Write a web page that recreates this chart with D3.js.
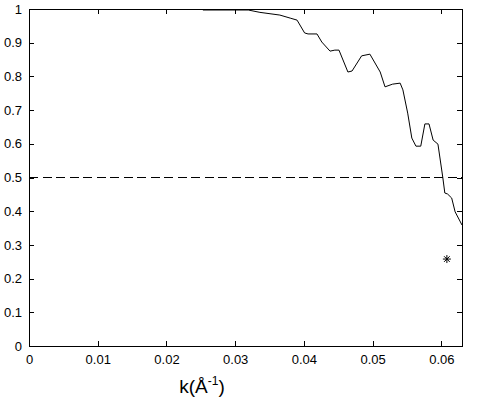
<!DOCTYPE html>
<html>
<head>
<meta charset="utf-8">
<script src="https://cdn.jsdelivr.net/npm/d3@7"></script>
<style>
  body { margin: 0; background: #fff; }
  svg { display: block; font-family: "Liberation Sans", Arial, sans-serif; }
</style>
</head>
<body>
<div class="chart"></div>
<script>
const width = 481;
const height = 406;
const margin = {top: 9, right: 19, bottom: 60, left: 29};

// curve
const kValues = [0.0253, 0.0319, 0.0336, 0.0365, 0.0380, 0.0390, 0.0401, 0.0406, 0.0419, 0.0426,
  0.0438, 0.0445, 0.0451, 0.0464, 0.0470, 0.0484, 0.0496, 0.0511, 0.0518, 0.0529,
  0.0540, 0.0544, 0.0551, 0.0557, 0.0563, 0.0570, 0.0576, 0.0582, 0.0588, 0.0595,
  0.0602, 0.0605, 0.0609, 0.0615, 0.0620, 0.0630];
const fscValues = [0.997, 0.997, 0.990, 0.982, 0.973, 0.967, 0.929, 0.926, 0.926, 0.902,
  0.875, 0.878, 0.878, 0.813, 0.816, 0.861, 0.866, 0.813, 0.769, 0.777,
  0.780, 0.760, 0.691, 0.617, 0.593, 0.593, 0.659, 0.659, 0.611, 0.599,
  0.501, 0.454, 0.451, 0.439, 0.398, 0.359];
const threshold = 0.5;
const starPoint = [0.0608, 0.258];

const xTicks = [0, 0.01, 0.02, 0.03, 0.04, 0.05, 0.06];
const yTicks = [0, 0.1, 0.2, 0.3, 0.4, 0.5, 0.6, 0.7, 0.8, 0.9, 1];
const xDomain = [0, 0.063];
const yDomain = [0, 1];

const x = d3.scaleLinear().domain(xDomain).range([margin.left, width - margin.right]);
const y = d3.scaleLinear().domain(yDomain).range([height - margin.bottom, margin.top]);

const svg = d3.select(".chart")
  .append("svg")
  .attr("width", width)
  .attr("height", height);

svg.append("rect").attr("width", width).attr("height", height).attr("fill", "#fff");

const tickLen = 5;
const axisStyle = g => g
  .call(g => g.select(".domain").remove())
  .call(g => g.selectAll("line").attr("stroke", "#000").attr("shape-rendering", "crispEdges"))
  .call(g => g.selectAll("text").attr("fill", "#000").attr("font-size", 13));

// bottom + top ticks pointing inward
svg.append("g")
  .attr("transform", `translate(0,${y(0)})`)
  .call(d3.axisBottom(x).tickValues(xTicks).tickSize(-tickLen).tickPadding(9).tickFormat(d3.format("")))
  .call(axisStyle);

svg.append("g")
  .attr("transform", `translate(0,${y(1)})`)
  .call(d3.axisTop(x).tickValues(xTicks.slice(1)).tickSize(-tickLen).tickFormat(""))
  .call(axisStyle);

svg.append("g")
  .attr("transform", `translate(${x(0)},0)`)
  .call(d3.axisLeft(y).tickValues(yTicks).tickSize(-tickLen).tickPadding(7).tickFormat(d3.format("")))
  .call(axisStyle);

svg.append("g")
  .attr("transform", `translate(${x(xDomain[1])},0)`)
  .call(d3.axisRight(y).tickValues(yTicks.slice(1, -1)).tickSize(-tickLen).tickFormat(""))
  .call(axisStyle);

// box
svg.append("rect")
  .attr("x", x(0))
  .attr("y", y(1))
  .attr("width", x(xDomain[1]) - x(0))
  .attr("height", y(0) - y(1))
  .attr("fill", "none")
  .attr("stroke", "#000")
  .attr("shape-rendering", "crispEdges");

// 0.5 threshold
svg.append("line")
  .attr("x1", x(xDomain[0]))
  .attr("x2", x(xDomain[1]))
  .attr("y1", y(threshold))
  .attr("y2", y(threshold))
  .attr("stroke", "#000")
  .attr("stroke-dasharray", "9,4.5")
  .attr("shape-rendering", "crispEdges");

const points = kValues.map((k, i) => [k, fscValues[i]]);
svg.append("path")
  .datum(points)
  .attr("fill", "none")
  .attr("stroke", "#000")
  .attr("stroke-width", 1)
  .attr("d", d3.line().x(d => x(d[0])).y(d => y(d[1])));

// asterisk marker
const r = 4;
const sx = x(starPoint[0]);
const sy = y(starPoint[1]);
const d45 = r * Math.SQRT1_2;
svg.append("path")
  .attr("d", `M${sx - r},${sy}H${sx + r}M${sx},${sy - r}V${sy + r}` +
    `M${sx - d45},${sy - d45}L${sx + d45},${sy + d45}M${sx - d45},${sy + d45}L${sx + d45},${sy - d45}`)
  .attr("stroke", "#000")
  .attr("stroke-width", 1)
  .attr("fill", "none");

// x label
const label = svg.append("text")
  .attr("x", 202)
  .attr("y", 393)
  .attr("text-anchor", "middle")
  .attr("font-size", 19)
  .attr("fill", "#000");
label.append("tspan").text("k(Å");
label.append("tspan").attr("font-size", 12).attr("dy", -8).text("-1");
label.append("tspan").attr("dy", 8).text(")");
</script>
</body>
</html>
